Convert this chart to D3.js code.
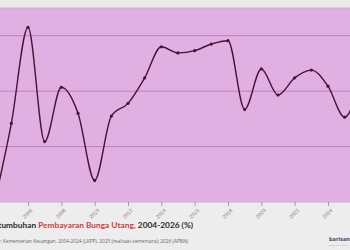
<!DOCTYPE html>
<html lang="id">
<head>
<meta charset="UTF-8" />
<title>Pertumbuhan Pembayaran Bunga Utang</title>
<script src="https://d3js.org/d3.v7.min.js"></script>
<style>
  html, body { margin: 0; padding: 0; background: #ededed; overflow: hidden; }
  svg { display: block; font-family: "Open Sans", sans-serif; }
</style>
</head>
<body>
<div id="chart"></div>
<script>
// data: growth of interest payments (%)
const years = [2004, 2005, 2006, 2007, 2008, 2009, 2010, 2011, 2012, 2013, 2014, 2015,
  2016, 2017, 2018, 2019, 2020, 2021, 2022, 2023, 2024, 2025, 2026];
const growth = [-10, 4.2, 21.5, 0.9, 10.7, 6.0, -6.1, 5.5, 7.8, 12.4, 18.0, 16.9,
  17.3, 18.5, 19.1, 6.7, 14.0, 9.3, 12.4, 13.8, 10.9, 5.3, 13];
const tickYears = [2004, 2006, 2008, 2010, 2012, 2014, 2016, 2018, 2020, 2022, 2024, 2026];
const gridValues = [0, 10, 20];

const width = 350, height = 250;
const plotTop = 8, plotBottom = 202;

const svg = d3.select("#chart").append("svg")
  .attr("width", width)
  .attr("height", height);

// chart is wider than the window, so the first and last years sit off-screen
const x = d3.scaleLinear().domain([2004, 2026]).range([-5.3, 361.3]);
const y = d3.scaleLinear().domain([-10, 25]).range([plotBottom, plotTop]);

const data = years.map((yr, i) => ({ year: yr, value: growth[i] }));

// top band
svg.append("rect")
  .attr("x", 0).attr("y", 0)
  .attr("width", width).attr("height", plotTop)
  .attr("fill", "#ebebeb");

// plot area
svg.append("rect")
  .attr("x", -20).attr("y", plotTop)
  .attr("width", width + 40).attr("height", plotBottom - plotTop)
  .attr("fill", "#e0b0e2");

svg.append("line")
  .attr("x1", 0).attr("x2", width)
  .attr("y1", plotTop).attr("y2", plotTop)
  .attr("stroke", "#d6a6d8").attr("stroke-width", 1);

// gridlines
svg.append("g")
  .selectAll("line")
  .data(gridValues)
  .join("line")
  .attr("x1", -20).attr("x2", width + 20)
  .attr("y1", d => y(d)).attr("y2", d => y(d))
  .attr("stroke", "#bd80c0")
  .attr("stroke-width", 1);

// x axis
const xAxis = svg.append("g")
  .attr("transform", `translate(0,${plotBottom})`)
  .call(d3.axisBottom(x).tickValues(tickYears).tickFormat(d3.format("d")).tickSize(4));
xAxis.select(".domain").attr("stroke", "#cfcfcf");
xAxis.selectAll(".tick line").attr("stroke", "#a898a8");
xAxis.selectAll(".tick text")
  .attr("fill", "#8c7c94")
  .attr("font-size", 5.2)
  .attr("text-anchor", "end")
  .attr("y", 0)
  .attr("dy", "0.35em")
  .attr("transform", "translate(3,7.5) rotate(-45)");

// line
const line = d3.line()
  .x(d => x(d.year))
  .y(d => y(d.value))
  .curve(d3.curveMonotoneX);

svg.append("path")
  .datum(data)
  .attr("fill", "none")
  .attr("stroke", "#4d0f33")
  .attr("stroke-width", 1.4)
  .attr("d", line);

svg.append("g")
  .selectAll("circle")
  .data(data)
  .join("circle")
  .attr("cx", d => x(d.year))
  .attr("cy", d => y(d.value))
  .attr("r", 1.6)
  .attr("fill", "#4d0f33");

// title, sized so the red part starts near x=38 and the text ends at x=193
const title = svg.append("text")
  .attr("x", 193).attr("y", 228)
  .attr("text-anchor", "end")
  .attr("font-family", "Lato, 'Open Sans', sans-serif")
  .attr("font-size", 8.6)
  .attr("font-weight", 700)
  .attr("fill", "#2a2a2a");
const t1 = title.append("tspan").text("Pertumbuhan ");
title.append("tspan").attr("fill", "#d23b3f").text("Pembayaran Bunga Utang,");
title.append("tspan").text(" 2004-2026 (%)");
const total = title.node().getComputedTextLength();
const first = t1.node().getComputedTextLength();
if (total - first > 0) {
  title.attr("font-size", 8.6 * 155 / (total - first));
}

// source
svg.append("text")
  .attr("x", 188).attr("y", 243)
  .attr("text-anchor", "end")
  .attr("font-size", 4.8)
  .attr("fill", "#666")
  .text("Sumber: Kementerian Keuangan, 2004-2024 (LKPP), 2025 (realisasi sementara); 2026 (APBN)");

// logo
svg.append("text")
  .attr("x", 329).attr("y", 241)
  .attr("font-size", 5.6)
  .attr("font-weight", 700)
  .attr("fill", "#3b4868")
  .text("barisan.co");
svg.append("text")
  .attr("x", 329).attr("y", 245.5)
  .attr("font-size", 2.3)
  .attr("fill", "#aaa")
  .text("berita dan analisis");
</script>
</body>
</html>
